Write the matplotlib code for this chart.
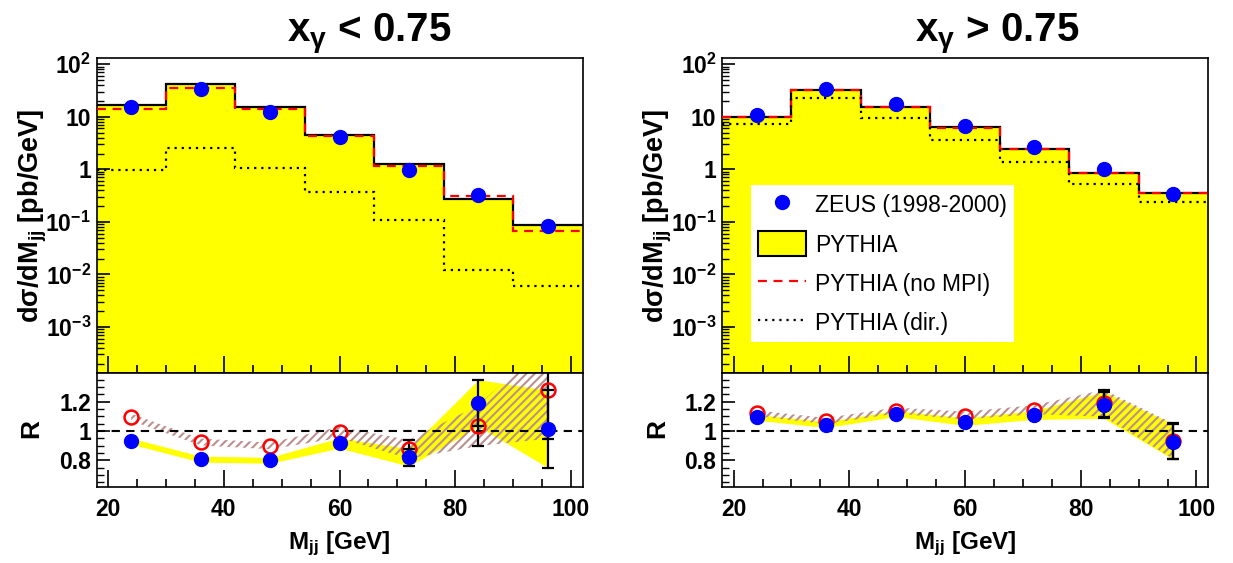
import numpy as np
import matplotlib.pyplot as plt
from matplotlib.lines import Line2D
from matplotlib.patches import Patch
from matplotlib.ticker import LogLocator, MultipleLocator, FuncFormatter, NullFormatter

plt.rcParams['font.family'] = ['Liberation Sans', 'DejaVu Sans']
plt.rcParams['font.weight'] = 'bold'
plt.rcParams['mathtext.fontset'] = 'custom'
plt.rcParams['mathtext.rm'] = 'Liberation Sans:bold'
plt.rcParams['mathtext.it'] = 'Liberation Sans:bold'
plt.rcParams['mathtext.bf'] = 'Liberation Sans:bold'
plt.rcParams['hatch.linewidth'] = 1.5
plt.rcParams['axes.linewidth'] = 1.2

# bins in M_jj [GeV]
edges = [18, 30, 42, 54, 66, 78, 90, 102]
centers = [24, 36, 48, 60, 72, 84, 96]

# x_gamma < 0.75
lo_pythia = [16.7, 42.3, 15.3, 4.55, 1.24, 0.269, 0.0865]
lo_nompi = [14.4, 36.0, 14.0, 4.3, 1.17, 0.316, 0.0665]
lo_direct = [0.96, 2.54, 1.08, 0.377, 0.111, 0.0121, 0.0059]
lo_zeus = [15.5, 33.5, 12.3, 4.11, 0.986, 0.32, 0.085]
lo_r_pythia = [0.93, 0.808, 0.80, 0.918, 0.82, 1.19, 1.014]
lo_r_nompi = [1.093, 0.925, 0.898, 0.99, 0.875, 1.036, 1.28]
lo_relerr = [0.022, 0.025, 0.025, 0.038, 0.073, 0.134, 0.26]

# x_gamma > 0.75
hi_pythia = [9.86, 33.0, 15.3, 6.27, 2.43, 0.851, 0.36]
hi_nompi = [9.95, 32.6, 15.1, 6.15, 2.40, 0.845, 0.355]
hi_direct = [7.36, 22.9, 9.57, 3.66, 1.38, 0.535, 0.24]
hi_zeus = [10.9, 33.5, 17.4, 6.65, 2.69, 1.03, 0.335]
hi_r_pythia = [1.093, 1.043, 1.118, 1.064, 1.109, 1.177, 0.927]
hi_r_nompi = [1.12, 1.068, 1.139, 1.105, 1.145, 1.189, 0.93]
hi_relerr = [0.018, 0.019, 0.018, 0.024, 0.027, 0.077, 0.13]

W, H = 1233, 563
fig = plt.figure(figsize=(W / 100, H / 100), dpi=100)

hatch_col = '#bc8f8f'
tick_fs = 16.5
marker_r = 0.05  # error bars shorter than this stay hidden behind the marker (like ROOT)


def logfmt(v, pos):
    e = int(round(np.log10(v)))
    if e == 0:
        return '1'
    if e == 1:
        return '10'
    return r'$10^{%d}$' % e


def style_axes(ax):
    ax.set_xlim(18, 102)
    ax.xaxis.set_major_locator(MultipleLocator(20))
    ax.xaxis.set_minor_locator(MultipleLocator(5))
    ax.tick_params(which='both', direction='in', top=False, right=False, labelsize=tick_fs)
    ax.tick_params(axis='x', which='major', length=12, width=1.2, pad=8)
    ax.tick_params(axis='x', which='minor', length=6, width=1.2)
    ax.tick_params(axis='y', which='major', length=9, width=1.2, pad=4)
    ax.tick_params(axis='y', which='minor', length=5, width=1.0)


def ratio_points(axr, r, relerr, z, **mk):
    x = np.array(centers)
    err = r * relerr
    big = err > marker_r
    axr.errorbar(x[big], r[big], yerr=err[big], fmt='none', ecolor='k', elinewidth=1.6,
                 capsize=4, capthick=1.6, zorder=z)
    axr.plot(x, r, 'o', ms=10, zorder=z + 0.5, **mk)


def draw_panel(x0, pythia, nompi, direct, zeus, r_py, r_nm, relerr, title, title_x):
    left = x0 / W
    width = 486 / W
    ax = fig.add_axes([left, 1 - 373 / H, width, (373 - 58.3) / H])
    axr = fig.add_axes([left, 1 - 487 / H, width, 114 / H])

    zeus = np.array(zeus)
    relerr = np.array(relerr)

    # upper panel: cross sections
    ax.stairs(pythia, edges, baseline=1e-6, fill=True, color='#ffff00', zorder=1)
    ax.stairs(pythia, edges, baseline=None, color='k', lw=1.6, zorder=2)
    ax.stairs(nompi, edges, baseline=None, color='red', lw=1.6, ls=(0, (4, 3)), zorder=3)
    ax.stairs(direct, edges, baseline=None, color='k', lw=1.6, ls=(0, (1, 2.2)), zorder=3)
    ax.plot(centers, zeus, 'o', color='blue', ms=10, zorder=5)
    ax.set_yscale('log')
    ax.set_ylim(1.33e-4, 130)
    ax.yaxis.set_major_locator(LogLocator(base=10, numticks=20))
    ax.yaxis.set_minor_locator(LogLocator(base=10, subs=np.arange(2, 10), numticks=20))
    ax.yaxis.set_major_formatter(FuncFormatter(logfmt))
    ax.yaxis.set_minor_formatter(NullFormatter())
    style_axes(ax)
    ax.tick_params(axis='x', labelbottom=False)

    # lower panel: ratios
    r_py = np.array(r_py)
    r_nm = np.array(r_nm)
    axr.fill_between(centers, r_py * (1 - relerr), r_py * (1 + relerr), color='#ffff00', lw=0, zorder=1)
    axr.fill_between(centers, r_nm * (1 - relerr), r_nm * (1 + relerr), facecolor='none',
                     edgecolor=hatch_col, hatch='////', lw=0, zorder=2)
    axr.axhline(1, color='k', lw=1.5, ls=(0, (4, 3)), zorder=3)
    ratio_points(axr, r_nm, relerr, 4, mfc='none', mec='red', mew=1.8)
    ratio_points(axr, r_py, relerr, 5, color='blue')
    axr.set_ylim(0.618, 1.395)
    axr.set_yticks([0.8, 1.0, 1.2])
    axr.yaxis.set_minor_locator(MultipleLocator(0.05))
    axr.yaxis.set_major_formatter(FuncFormatter(lambda v, p: '%g' % round(v, 2)))
    style_axes(axr)

    xc = (x0 + 243) / W
    fig.text(xc, 1 - 549 / H, r'M$_{jj}$ [GeV]', ha='center', va='baseline', fontsize=17.5)
    fig.text((x0 - 64) / W, 1 - 216 / H, r'd$\sigma$/dM$_{jj}$ [pb/GeV]', rotation=90,
             ha='center', va='center', fontsize=19.5)
    fig.text((x0 - 65) / W, 1 - 429 / H, 'R', rotation=90, ha='center', va='center', fontsize=19)
    fig.text(title_x / W, 1 - 41 / H, title, ha='center', va='baseline', fontsize=29)
    return ax, axr


draw_panel(96.5, lo_pythia, lo_nompi, lo_direct, lo_zeus, lo_r_pythia, lo_r_nompi, lo_relerr,
           r'x$_{\gamma}$ < 0.75', 369)
ax_hi, _ = draw_panel(722, hi_pythia, hi_nompi, hi_direct, hi_zeus, hi_r_pythia, hi_r_nompi, hi_relerr,
                      r'x$_{\gamma}$ > 0.75', 997)

handles = [
    Line2D([], [], ls='none', marker='o', color='blue', ms=10),
    Patch(facecolor='#ffff00', edgecolor='k', lw=1.5),
    Line2D([], [], color='red', lw=1.6, ls=(0, (4, 3))),
    Line2D([], [], color='k', lw=1.6, ls=(0, (1, 2.2))),
]
labels = ['ZEUS (1998-2000)', 'PYTHIA', 'PYTHIA (no MPI)', 'PYTHIA (dir.)']
leg = ax_hi.legend(handles, labels, loc='upper left', bbox_to_anchor=(0.059, 0.597),
                   prop={'family': 'Liberation Sans', 'weight': 'normal', 'size': 16.5},
                   handlelength=2.1, handleheight=1.3, handletextpad=0.4,
                   borderpad=0.3, labelspacing=0.62, fancybox=False, framealpha=1,
                   facecolor='white', edgecolor='none', borderaxespad=0)

fig.savefig('out.png', dpi=100)
